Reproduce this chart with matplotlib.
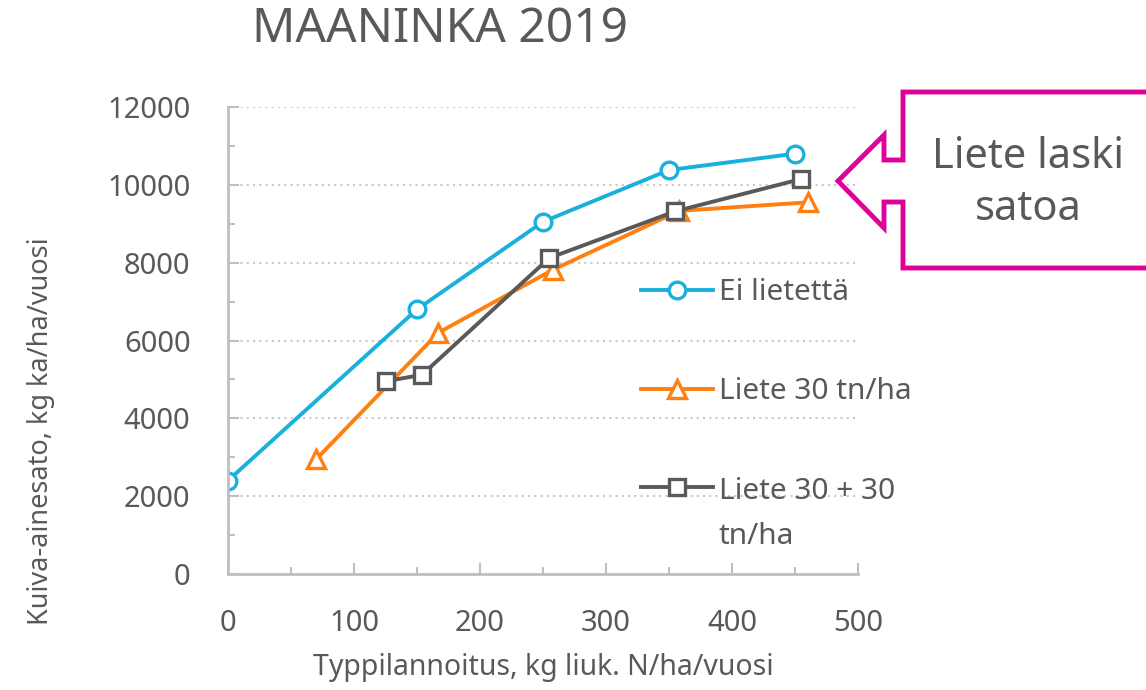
import matplotlib
matplotlib.use('Agg')
from matplotlib import pyplot as plt
from matplotlib.patches import Polygon
from matplotlib.ticker import MultipleLocator

plt.rcParams['font.family'] = ['Noto Sans', 'DejaVu Sans']

# data
x_ei = [0, 150, 250, 350, 450]
y_ei = [2400, 6800, 9050, 10380, 10800]
x_l30 = [70, 167, 258, 358, 460]
y_l30 = [2950, 6200, 7820, 9330, 9550]
x_l60 = [125, 154, 255, 355, 455]
y_l60 = [4950, 5120, 8120, 9320, 10150]
labels = ['Ei lietettä', 'Liete 30 tn/ha', 'Liete 30 + 30\ntn/ha']

grey = '#595959'
axis_col = '#bfbfbf'

fig = plt.figure(figsize=(11.46, 6.9), dpi=100)
ax = fig.add_axes([228/1146, 1-574/690, 630/1146, 467/690])

ax.plot(x_ei, y_ei, color='#1ab0dc', lw=2.8, marker='o', ms=12, mfc='white', mew=2.4, label=labels[0])
ax.plot(x_l30, y_l30, color='#ff8010', lw=2.8, marker='^', ms=13, mfc='white', mew=2.4, label=labels[1])
ax.plot(x_l60, y_l60, color=grey, lw=2.8, marker='s', ms=11, mfc='white', mew=2.4, label=labels[2])

ax.set_xlim(0, 500)
ax.set_ylim(0, 12000)
ax.xaxis.set_major_locator(MultipleLocator(100))
ax.xaxis.set_minor_locator(MultipleLocator(50))
ax.yaxis.set_major_locator(MultipleLocator(2000))
ax.yaxis.set_minor_locator(MultipleLocator(1000))
ax.grid(axis='y', which='major', color='#c8c8c8', ls=(0, (1, 2)), lw=1.5)
for s in ['top', 'right']:
    ax.spines[s].set_visible(False)
for s in ['left', 'bottom']:
    ax.spines[s].set_color(axis_col)
    ax.spines[s].set_linewidth(2)
ax.tick_params(which='major', direction='in', length=8, width=1.5, color=axis_col,
               labelsize=21, labelcolor=grey)
ax.tick_params(which='minor', direction='in', length=5, width=1.5, color=axis_col)
ax.tick_params(axis='x', which='major', pad=25)
ax.tick_params(axis='y', which='major', pad=27)

ax.set_xlabel('Typpilannoitus, kg liuk. N/ha/vuosi', fontsize=20.5, color=grey)
ax.set_ylabel('Kuiva-ainesato, kg ka/ha/vuosi', fontsize=19.5, color=grey)
ax.xaxis.set_label_coords(0.5, -0.17)
ax.yaxis.set_label_coords(-0.275, 0.305)
fig.text(440/1146, 1-30/690, 'MAANINKA 2019', fontsize=34.5, color=grey, ha='center', va='center')

leg = ax.legend(loc='upper left', bbox_to_anchor=(641/1146, 1-278/690), bbox_transform=fig.transFigure,
                frameon=False, fontsize=21.5, labelcolor=grey, handlelength=2.4, handletextpad=0.2,
                labelspacing=2.36, borderpad=0, borderaxespad=0)
leg.get_texts()[2].set_linespacing(1.75)
# keep the handle of the two-line entry next to its first line
leg._legend_handle_box.get_children()[0].get_children()[-1].align = 'top'

# callout arrow box
pts = [(1150, 92), (903, 92), (903, 160), (884, 160), (884, 135), (838, 181),
       (884, 228), (884, 202), (903, 202), (903, 268), (1150, 268)]
poly = Polygon([(px/1146, 1-py/690) for px, py in pts], closed=False, fill=False,
               edgecolor='#e0009a', lw=3.5, transform=fig.transFigure, clip_on=False)
fig.add_artist(poly)
fig.text(1028/1146, 1-183/690, 'Liete laski\nsatoa', fontsize=30, color=grey,
         ha='center', va='center', linespacing=1.3)

fig.savefig('out.png', dpi=100)
